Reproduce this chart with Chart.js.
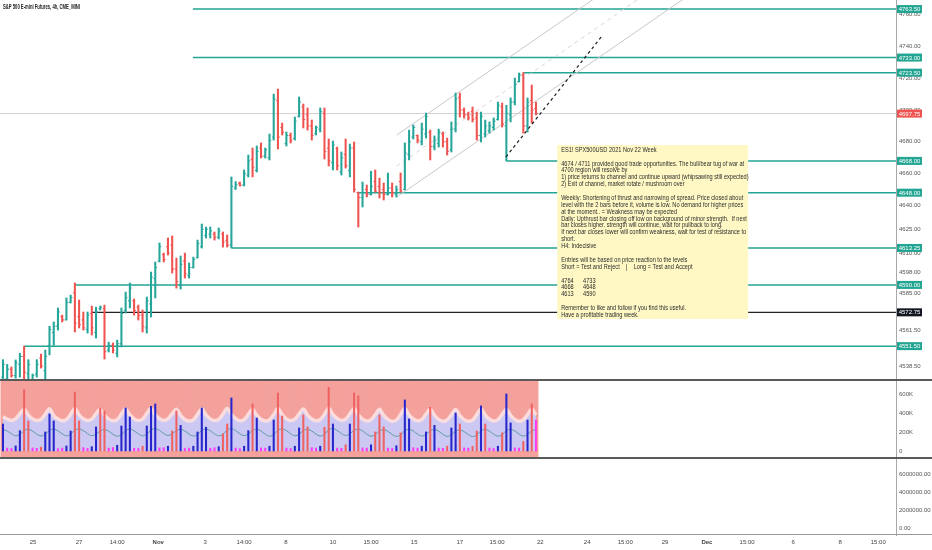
<!DOCTYPE html>
<html>
<head>
<meta charset="utf-8">
<script src="https://cdn.jsdelivr.net/npm/chart.js@4.4.1/dist/chart.umd.min.js"></script>
<style>
  html, body { margin: 0; padding: 0; background: #fff; }
  #wrap { position: relative; width: 932px; height: 550px; overflow: hidden; }
  #wrap canvas { position: absolute; left: 0; }
  .sep { position: absolute; left: 0; width: 932px; }
</style>
</head>
<body>
<div id="wrap">
  <canvas id="price" width="932" height="380" style="top:0"></canvas>
  <canvas id="volume" width="932" height="78" style="top:380px"></canvas>
  <canvas id="lower" width="932" height="92" style="top:458px"></canvas>
  <div class="sep" style="top:379px;height:2px;background:#5a5a5a"></div>
  <div class="sep" style="top:457px;height:2px;background:#5a5a5a"></div>
  <div class="sep" style="top:534px;height:1px;background:#9a9a9a"></div>
</div>
<script>
// ---- data (4h bars, Oct 22 - Nov 19 2021) ----
const opens = [4532, 4531, 4537, 4533, 4540, 4545, 4534, 4530, 4534, 4544,
  4536, 4552, 4560, 4564, 4570, 4568, 4579, 4585, 4570, 4568,
  4562, 4572, 4560, 4575, 4575, 4549, 4552, 4547, 4553, 4574,
  4580, 4580, 4576, 4571, 4563, 4578, 4594, 4605, 4609, 4614,
  4615, 4600, 4590, 4605, 4596, 4601, 4607, 4614, 4621, 4622,
  4622, 4620, 4622, 4618, 4615, 4651, 4654, 4653, 4659, 4669,
  4662, 4676, 4671, 4670, 4683, 4706, 4689, 4679, 4684, 4682,
  4696, 4702, 4697, 4690, 4685, 4688, 4698, 4676, 4667, 4676,
  4661, 4672, 4662, 4676, 4648, 4645, 4650, 4647, 4655, 4652,
  4650, 4647, 4651, 4647, 4655, 4650, 4672, 4683, 4684, 4680,
  4685, 4686, 4677, 4679, 4685, 4680, 4675, 4688, 4708, 4700,
  4697, 4699, 4695, 4684, 4685, 4687, 4689, 4694, 4702, 4690,
  4697, 4705, 4718, 4722, 4690, 4706, 4701];
const highs = [4543, 4540, 4538.4, 4542.8, 4547, 4551.5, 4543, 4534, 4543, 4546.5,
  4549, 4564, 4566.7, 4575.5, 4571, 4581.8, 4583.6, 4591.2, 4580.5, 4573,
  4573, 4576.7, 4576, 4576.7, 4577.3, 4554, 4553.5, 4555.3, 4575.5, 4585.5,
  4591.2, 4581.1, 4577.3, 4574.2, 4582.4, 4598.1, 4604.4, 4616.4, 4610, 4619.5,
  4620.8, 4606.9, 4608.2, 4610, 4603.8, 4607.5, 4618.2, 4628.3, 4626.4, 4626.4,
  4623.3, 4625.8, 4623.3, 4621.4, 4657.9, 4655, 4654.7, 4662.3, 4671.7, 4676.1,
  4677.4, 4679.3, 4676.1, 4684.9, 4710, 4713.2, 4691.8, 4686.2, 4685.5, 4695.6,
  4708.2, 4703.8, 4701.3, 4693.7, 4689.9, 4701.3, 4701.3, 4681.8, 4680.5, 4676.7,
  4673.6, 4681.8, 4678.6, 4679.9, 4648.4, 4654.7, 4652.8, 4661.5, 4662.3, 4657.2,
  4654.1, 4660.4, 4654.1, 4652.2, 4660.4, 4679.3, 4687.4, 4690.6, 4684.3, 4691.8,
  4698.1, 4687.4, 4683.7, 4688, 4686.2, 4682.4, 4692.5, 4710.7, 4710.7, 4701.3,
  4698.7, 4701.9, 4698.7, 4698.7, 4693.7, 4692.5, 4695, 4705, 4704.4, 4703,
  4707.6, 4720.1, 4723.3, 4723.5, 4707.6, 4715.7, 4705];
const lows = [4529, 4528, 4532, 4531.4, 4532, 4528, 4529, 4527, 4532, 4537.7,
  4529, 4546, 4552, 4561.6, 4566.7, 4567.9, 4578.6, 4560.4, 4562.9, 4561.6,
  4559.7, 4558.5, 4556.6, 4574.2, 4543.4, 4547.8, 4547.2, 4544.7, 4551, 4572.3,
  4575.5, 4571, 4567.9, 4560.4, 4559.7, 4569.8, 4581.8, 4604.4, 4604.4, 4608.8,
  4597.5, 4588, 4587.4, 4594.3, 4594.3, 4600.6, 4606.9, 4613.2, 4619.5, 4619.5,
  4618.2, 4618.9, 4613.8, 4613.8, 4613.3, 4650, 4652.2, 4652.2, 4657.9, 4657.9,
  4661, 4669.8, 4669.8, 4668.6, 4681.1, 4675.5, 4684.3, 4677.4, 4679.3, 4681.1,
  4695.6, 4688.7, 4687.4, 4681.1, 4684.3, 4686.2, 4669.2, 4664.8, 4662.3, 4662.3,
  4659.1, 4663.5, 4657.9, 4648.4, 4626.4, 4639, 4645.3, 4646.5, 4648.4, 4644.7,
  4643.4, 4646.5, 4645.3, 4645.3, 4648.4, 4649.7, 4668.6, 4681.8, 4679.3, 4678,
  4682.4, 4668.6, 4674.9, 4676.7, 4676.7, 4671.7, 4673.6, 4686.2, 4695.6, 4695,
  4693.7, 4692.5, 4681.1, 4679.9, 4683, 4685.5, 4687.4, 4693.7, 4689.3, 4668,
  4692.5, 4703.2, 4717.6, 4685.5, 4686.2, 4691.8, 4696.9];
const closes = [4540, 4537, 4533, 4541, 4545, 4535, 4540, 4533, 4540, 4539,
  4545, 4562, 4564, 4573, 4568, 4579, 4582, 4566, 4565, 4563,
  4571, 4563, 4573, 4576, 4548, 4552, 4549, 4553, 4572, 4582,
  4588, 4574, 4571, 4564, 4580, 4595, 4601, 4614, 4606, 4610,
  4600, 4592, 4603, 4597, 4601, 4606, 4616, 4625, 4625, 4624,
  4620, 4624, 4617, 4615, 4652, 4653, 4652.5, 4660, 4668, 4664,
  4674, 4671, 4675, 4681, 4707, 4683, 4686, 4684, 4681, 4693,
  4705, 4694, 4690, 4684, 4689, 4699, 4674, 4668, 4678, 4665,
  4670, 4665, 4676, 4650, 4645, 4648, 4647, 4652, 4649, 4648,
  4647, 4651, 4648, 4650, 4649, 4673, 4680, 4689, 4681, 4688,
  4696, 4677, 4681, 4686, 4680, 4674, 4688, 4707, 4700, 4697,
  4695, 4694, 4684, 4696, 4690, 4690, 4693, 4703, 4691, 4698,
  4705, 4716, 4722, 4690, 4705, 4700, 4697.75];

// volume indicator (thousands)
const volumes = [284, 30, 26, 53, 214, 645, 316, 32, 28, 40,
  200, 389, 316, 24, 30, 53, 210, 620, 316, 34,
  28, 45, 253, 453, 421, 30, 36, 60, 263, 453,
  358, 28, 26, 50, 263, 470, 495, 32, 34, 50,
  210, 421, 270, 26, 30, 50, 200, 453, 250, 28,
  34, 45, 180, 284, 558, 30, 24, 50, 214, 495,
  347, 32, 30, 50, 326, 610, 368, 30, 26, 50,
  242, 379, 253, 34, 30, 50, 250, 670, 284, 30,
  28, 65, 284, 610, 580, 32, 30, 65, 200, 379,
  253, 30, 26, 55, 190, 537, 337, 34, 30, 50,
  200, 460, 270, 30, 28, 50, 242, 400, 284, 32,
  30, 50, 210, 474, 284, 30, 26, 50, 190, 600,
  295, 32, 30, 100, 326, 495, 326];
const volumeKinds = ('bmmbbrrmmr' + 'bbbmmbbrrm' + 'mbbrrmmbbb' + 'bmmrbbbmmb' + 'rrbmmbbbbm' +
  'mbrrbmmbbr' + 'bmmbbrrmmb' + 'brrmmbrrbm' + 'mrbrrmmbrr' + 'rmmbrbbmmb' +
  'brbmmrbbrm' + 'mrrbrmmbrb' + 'bmmrbrm').split('');
const bandUpper = [360, 335, 322, 338, 392,
  440, 378, 338, 320, 332, 388,
  445, 372, 336, 318, 330, 385,
  448, 380, 340, 322, 336, 392,
  438, 376, 335, 318, 330, 390,
  442, 380, 338, 320, 334, 395,
  446, 382, 340, 322, 338, 392,
  440, 375, 332, 316, 328, 385,
  444, 380, 338, 320, 332, 388,
  448, 384, 340, 318, 330, 386,
  440, 376, 334, 316, 328, 384,
  446, 382, 338, 320, 334, 390,
  442, 378, 336, 318, 330, 386,
  450, 385, 342, 322, 336, 392,
  444, 380, 336, 316, 328, 382,
  438, 374, 332, 312, 326, 384,
  446, 380, 336, 318, 330, 388,
  440, 376, 332, 314, 326, 380,
  436, 372, 330, 312, 324, 382,
  442, 378, 334, 316, 330, 386,
  440, 376, 332, 314, 328, 384,
  438, 378];
const bandMid = [226, 210, 182, 160, 174,
  214, 228, 210, 178, 158, 176,
  216, 230, 212, 180, 160, 178,
  218, 232, 214, 182, 162, 176,
  212, 226, 208, 176, 156, 172,
  214, 230, 212, 180, 160, 178,
  220, 234, 216, 184, 164, 180,
  214, 228, 210, 178, 158, 174,
  216, 230, 212, 180, 160, 176,
  220, 234, 214, 182, 162, 178,
  214, 228, 210, 176, 156, 172,
  218, 232, 214, 182, 160, 176,
  214, 228, 210, 178, 158, 174,
  222, 236, 216, 184, 164, 180,
  216, 230, 212, 178, 156, 172,
  210, 224, 206, 174, 154, 170,
  214, 228, 210, 178, 158, 174,
  212, 226, 208, 176, 154, 170,
  208, 222, 204, 172, 152, 168,
  212, 226, 208, 176, 156, 172,
  214, 228, 210, 178, 158, 174,
  212, 226];

// drawn levels and lines (bar index / price)
const levelPrices = [4763.5, 4733, 4723.5, 4668, 4648, 4613.25, 4590, 4551.5];
const levelStarts = [44.9, 44.9, 123, 119, 83.7, 54, 17, 5];
const blackLevel = 4572.75;
const blackLevelStart = 21;
const lastPrice = 4697.75;
const channelX = [93.1, 170];
const channelUpper = [4684.3, 4825.6];
const channelMid = [4664.8, 4806.1];
const channelLower = [4645.3, 4786.6];
const dashX = [118.9, 141.8];
const dashY = [4670.5, 4747.2];

// axes
const priceTicks = [4538.5, 4561.5, 4585, 4598, 4610, 4625, 4640, 4660, 4680, 4700, 4720, 4740, 4760];
const volumeTicks = [0, 200, 400, 600];
const lowerTicks = [0, 2000000, 4000000, 6000000];
const timeTickPos = [7.1, 18, 27, 36.7, 47.8, 57, 66.9, 78, 87, 97.2, 108, 116.8, 127, 138.1, 147.1, 156.5, 166.4, 175.9, 186.8, 197.9, 206.9];
const timeTickLabels = ['25', '27', '14:00', 'Nov', '3', '14:00', '8', '10', '15:00', '15', '17', '15:00', '22', '24', '15:00', '29', 'Dec', '15:00', '6', '8', '15:00'];

const noteLines = [
  'ES1! SPX500USD 2021 Nov 22 Week',
  '',
  '4674 / 4711 provided good trade opportunities. The bull/bear tug of war at',
  '4700 region will resolve by',
  '1) price returns to channel and continue upward (whipsawing still expected)',
  '2) Exit of channel, market rotate / mushroom over',
  '',
  'Weekly: Shortening of thrust and narrowing of spread. Price closed about',
  'level with the 2 bars before it, volume is low. No demand for higher prices',
  'at the moment.. = Weakness may be expected',
  'Daily: Upthrust bar closing off low on background of minor strength.  If next',
  'bar closes higher. strength will continue, wait for pullback to long.',
  'If next bar closes lower will confirm weakness, wait for test of resistance to',
  'short.',
  'H4: Indecisive',
  '',
  'Entries will be based on price reaction to the levels',
  'Short = Test and Reject    |    Long = Test and Accept',
  '',
  '4764      4733',
  '4668      4648',
  '4613      4590',
  '',
  'Remember to like and follow if you find this useful.',
  'Have a profitable trading week.'
];

const UP = '#26a69a';
const DOWN = '#ef5350';
const LEVEL = '#22a592';
const FONT = '"Liberation Sans", Arial, sans-serif';
const xMin = -0.7;
const xMax = 211.1;

const barColors = closes.map((c, i) => (c >= opens[i] ? UP : DOWN));
const kindColor = { b: '#2626cc', r: '#f06262', m: '#ff3cf0' };

const fixedAxis = s => {
  s.width = 36;
  s.paddingTop = 0;
  s.paddingBottom = 0;
};
const yAxisBase = {
  position: 'right',
  grid: { display: false, drawTicks: false },
  border: { display: true, color: '#a8a8a8' },
  ticks: { color: '#555', padding: 3, font: { size: 6, family: FONT } },
  afterFit: fixedAxis
};
const baseOptions = {
  responsive: false, animation: false, events: [],
  layout: { padding: 0, autoPadding: false },
  plugins: { legend: { display: false }, tooltip: { enabled: false } }
};

function segment(x0, x1, y0, y1) {
  return [{ x: x0, y: y0 }, { x: x1, y: y1 }];
}
function lineSet(data, color, width, order, dash) {
  return {
    type: 'line', data, borderColor: color, borderWidth: width, borderDash: dash || [],
    pointRadius: 0, pointHoverRadius: 0, fill: false, order
  };
}

// ---- price pane ----
const priceDatasets = [
  {
    type: 'bar',
    data: highs.map((h, i) => ({ x: i, y: [lows[i], h] })),
    backgroundColor: barColors,
    barThickness: 1.4,
    grouped: false,
    order: 3
  },
  {
    type: 'scatter',
    data: opens.map((o, i) => ({ x: i - 0.22, y: o })),
    pointStyle: 'line', pointRadius: 0.9, pointHoverRadius: 0, pointBorderWidth: 1,
    pointBorderColor: barColors, order: 2
  },
  {
    type: 'scatter',
    data: closes.map((c, i) => ({ x: i + 0.22, y: c })),
    pointStyle: 'line', pointRadius: 0.9, pointHoverRadius: 0, pointBorderWidth: 1,
    pointBorderColor: barColors, order: 2
  },
  lineSet(segment(dashX[0], dashX[1], dashY[0], dashY[1]), '#1a1a1a', 1.2, 1, [3, 3]),
  lineSet(segment(xMin, xMax, lastPrice, lastPrice), '#d0d0d0', 1, 9),
  lineSet(segment(channelX[0], channelX[1], channelUpper[0], channelUpper[1]), '#c9c9c9', 1, 4),
  lineSet(segment(channelX[0], channelX[1], channelMid[0], channelMid[1]), '#d6d6d6', 1, 4, [4, 4]),
  lineSet(segment(channelX[0], channelX[1], channelLower[0], channelLower[1]), '#c9c9c9', 1, 4),
  lineSet(segment(blackLevelStart, xMax, blackLevel, blackLevel), '#222', 1.4, 5)
];
levelPrices.forEach((p, k) => {
  priceDatasets.push(lineSet(segment(levelStarts[k], xMax, p, p), LEVEL, 1.5, 5));
});

const notePlugin = {
  id: 'note',
  afterDatasetsDraw(chart) {
    const ctx = chart.ctx;
    const { x, y } = chart.scales;
    const left = x.getPixelForValue(131);
    const top = y.getPixelForValue(4678);
    ctx.save();
    ctx.fillStyle = '#fff8c4';
    ctx.fillRect(left, top, 191, 174);
    ctx.font = '6.5px ' + FONT;
    ctx.fillStyle = '#2b2b2b';
    ctx.textBaseline = 'middle';
    const sx = 183 / ctx.measureText(noteLines[2]).width;
    noteLines.forEach((t, k) => {
      if (!t) return;
      ctx.save();
      ctx.translate(left + 4, top + 5 + k * 6.88);
      ctx.scale(sx, 1);
      ctx.fillText(t, 0, 0);
      ctx.restore();
    });
    ctx.restore();
  },
  afterDraw(chart) {
    const ctx = chart.ctx;
    const y = chart.scales.y;
    const badges = levelPrices.map(p => [p, LEVEL]).concat([[blackLevel, '#131722'], [lastPrice, DOWN]]);
    ctx.save();
    ctx.font = '6px ' + FONT;
    ctx.textAlign = 'center';
    ctx.textBaseline = 'middle';
    badges.forEach(([p, col]) => {
      const py = y.getPixelForValue(p);
      ctx.fillStyle = col;
      ctx.fillRect(897, py - 4, 25, 8);
      ctx.fillStyle = '#fff';
      ctx.fillText(p.toFixed(2), 909.5, py + 0.3);
    });
    // pane title
    const title = 'S&P 500 E-mini Futures, 4h, CME_MINI';
    ctx.font = '600 6.5px ' + FONT;
    ctx.textAlign = 'left';
    ctx.fillStyle = '#222';
    const tx = 77 / ctx.measureText(title).width;
    ctx.translate(3, 7);
    ctx.scale(tx, 1);
    ctx.fillText(title, 0, 0);
    ctx.restore();
  }
};

new Chart(document.getElementById('price'), {
  type: 'line',
  data: { datasets: priceDatasets },
  options: Object.assign({}, baseOptions, {
    scales: {
      x: { type: 'linear', min: xMin, max: xMax, display: false, offset: false },
      y: Object.assign({}, yAxisBase, {
        min: 4530.2, max: 4769.2,
        afterBuildTicks: s => { s.ticks = priceTicks.map(v => ({ value: v })); },
        ticks: Object.assign({}, yAxisBase.ticks, { callback: v => v.toFixed(2) })
      })
    }
  }),
  plugins: [notePlugin]
});

// ---- volume pane ----
new Chart(document.getElementById('volume'), {
  type: 'line',
  data: {
    datasets: [
      {
        type: 'bar',
        data: volumes.map((v, i) => ({ x: i, y: v })),
        backgroundColor: volumeKinds.map(k => kindColor[k]),
        barThickness: 1.4, grouped: false, order: 0
      },
      {
        type: 'line',
        data: bandMid.map((v, i) => ({ x: i, y: v })),
        borderColor: '#5c9c9f', borderWidth: 1, tension: 0.4, pointRadius: 0, pointHoverRadius: 0,
        fill: false, order: 1
      },
      {
        type: 'line',
        data: bandUpper.map((v, i) => ({ x: i, y: v })),
        borderColor: 'rgba(252,222,222,0.95)', borderWidth: 3.5, tension: 0.3, pointRadius: 0,
        pointHoverRadius: 0, fill: 'origin', backgroundColor: '#cbc8f3', order: 2
      },
      {
        type: 'bar',
        data: volumes.map((v, i) => ({ x: i, y: [-74, 747] })),
        backgroundColor: '#f4a19c', barPercentage: 1, categoryPercentage: 1,
        grouped: false, order: 3
      }
    ]
  },
  options: Object.assign({}, baseOptions, {
    scales: {
      x: { type: 'linear', min: xMin, max: xMax, display: false, offset: false },
      y: Object.assign({}, yAxisBase, {
        min: -74, max: 747,
        afterBuildTicks: s => { s.ticks = volumeTicks.map(v => ({ value: v })); },
        ticks: Object.assign({}, yAxisBase.ticks, { callback: v => (v === 0 ? '0' : v + 'K') })
      })
    }
  })
});

// ---- lower pane + time axis ----
new Chart(document.getElementById('lower'), {
  type: 'line',
  data: { datasets: [{ data: [], pointRadius: 0 }] },
  options: Object.assign({}, baseOptions, {
    scales: {
      x: {
        type: 'linear', min: xMin, max: xMax, offset: false,
        grid: { display: false, drawTicks: false },
        border: { display: false },
        afterBuildTicks: s => { s.ticks = timeTickPos.map(v => ({ value: v })); },
        afterFit: s => { s.height = 15; s.paddingLeft = 0; s.paddingRight = 0; },
        ticks: {
          autoSkip: false, maxRotation: 0, padding: 4, color: '#444',
          font: c => ({
            size: 6, family: FONT,
            weight: (timeTickLabels[c.index] === 'Nov' || timeTickLabels[c.index] === 'Dec') ? 'bold' : 'normal'
          }),
          callback: (v, i) => timeTickLabels[i]
        }
      },
      y: Object.assign({}, yAxisBase, {
        min: -777778, max: 7777778,
        afterBuildTicks: s => { s.ticks = lowerTicks.map(v => ({ value: v })); },
        ticks: Object.assign({}, yAxisBase.ticks, { callback: v => v.toFixed(2) })
      })
    }
  })
});
</script>
</body>
</html>
